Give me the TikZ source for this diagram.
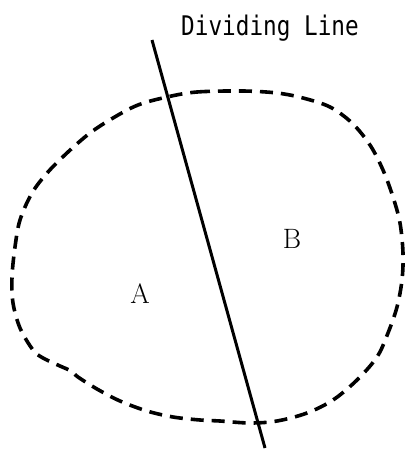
\documentclass[tikz,border=0pt]{standalone}
\usepackage{fontspec}
\newfontfamily\titlefont{DejaVu Sans Mono}
\begin{document}
\begin{tikzpicture}[x=1pt,y=-1pt,
  region/.style={line width=3.6pt,dash pattern=on 13pt off 8pt},
  divider/.style={line width=3pt},
  lbl/.style={font=\fontsize{28}{30}\selectfont},
  ttl/.style={font=\titlefont\fontsize{27}{30}\selectfont,inner sep=0pt}]
\useasboundingbox (0,0) rectangle (406,450);
\draw[region] plot[smooth cycle,tension=0.55] coordinates {
 (167,97) (197,92) (243,91) (277,93) (303,98) (330,107) (352,123) (370,145)
 (383,170) (393,197) (400,223) (403,253) (402,280) (397,307) (388,333)
 (377,357) (357,380) (333,400) (307,413) (277,421) (250,423) (220,421)
 (200,420) (173,417) (147,411) (120,401) (97,389) (78,377) (71,371)
 (60,366) (43,358) (33,350) (20,328) (13,303) (12,277) (15,247) (20,220)
 (32,193) (48,172) (68,152) (90,133) (113,118) (138,105)};
\coordinate (top) at (152,40);
\coordinate (bot) at (265,448);
\draw[divider] (top) -- (bot);
\node[lbl] (A) at (140,294) {A};
\node[lbl] (B) at (292,239) {B};
\node[ttl,anchor=base] (T) at (270,35) {\scalebox{0.84}[1]{Dividing Line}};
\end{tikzpicture}
\end{document}
